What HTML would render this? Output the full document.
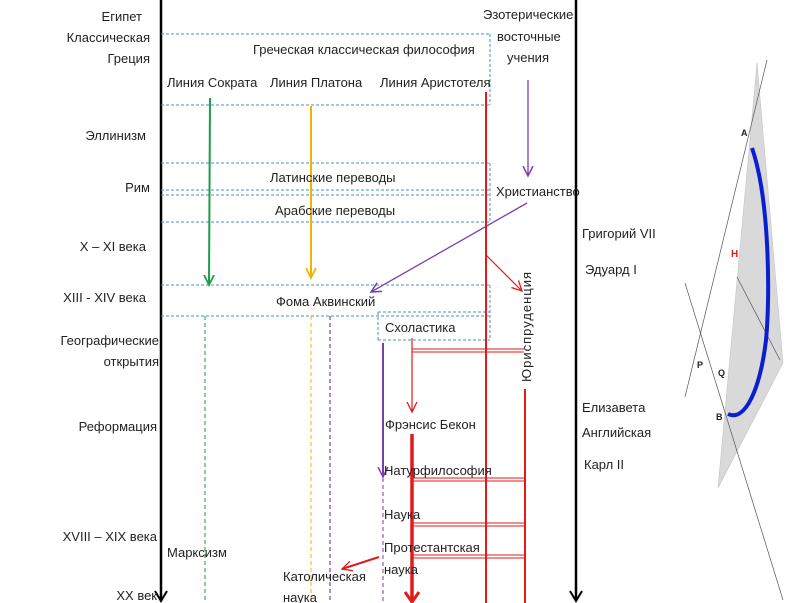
<!DOCTYPE html>
<html><head><meta charset="utf-8"><style>
html,body{margin:0;padding:0;background:#fff;}
svg{display:block;font-family:"Liberation Sans","DejaVu Sans",sans-serif;}
text{font-size:13px;fill:#222;}
</style></head><body>
<svg width="811" height="603" viewBox="0 0 811 603" xmlns="http://www.w3.org/2000/svg">
<defs>
<marker id="ag" markerWidth="12" markerHeight="12" refX="10" refY="6" orient="auto" markerUnits="userSpaceOnUse"><path d="M0,1 L10,6 L0,11" fill="none" stroke="#1a9e4a" stroke-width="1.8"/></marker>
<marker id="ay" markerWidth="12" markerHeight="12" refX="10" refY="6" orient="auto" markerUnits="userSpaceOnUse"><path d="M0,1 L10,6 L0,11" fill="none" stroke="#f0b400" stroke-width="1.8"/></marker>
<marker id="ap" markerWidth="12" markerHeight="12" refX="10" refY="6" orient="auto" markerUnits="userSpaceOnUse"><path d="M0,1 L10,6 L0,11" fill="none" stroke="#7a3fb0" stroke-width="1.5"/></marker>
<marker id="ar" markerWidth="12" markerHeight="12" refX="10" refY="6" orient="auto" markerUnits="userSpaceOnUse"><path d="M0,1 L10,6 L0,11" fill="none" stroke="#e21a1a" stroke-width="1.3"/></marker>
<marker id="ak" markerWidth="14" markerHeight="14" refX="11" refY="7" orient="auto" markerUnits="userSpaceOnUse"><path d="M1,1 L11,7 L1,13" fill="none" stroke="#000" stroke-width="2"/></marker>
</defs>

<line x1="161" y1="0" x2="161" y2="601" stroke="#000" stroke-width="2.5" marker-end="url(#ak)"/>
<line x1="576" y1="0" x2="576" y2="601" stroke="#000" stroke-width="2.5" marker-end="url(#ak)"/>

<g stroke="#4a8fc4" stroke-width="1" stroke-dasharray="3,2" fill="none">
<line x1="161" y1="34" x2="490" y2="34"/>
<line x1="490" y1="34" x2="490" y2="105"/>
<line x1="161" y1="105" x2="490" y2="105"/>
<line x1="161" y1="163" x2="490" y2="163"/>
<line x1="490" y1="163" x2="490" y2="222"/>
<line x1="161" y1="190" x2="490" y2="190"/>
<line x1="161" y1="195" x2="490" y2="195"/>
<line x1="161" y1="222" x2="490" y2="222"/>
<line x1="161" y1="285" x2="490" y2="285"/>
<line x1="490" y1="285" x2="490" y2="340"/>
<line x1="161" y1="316" x2="490" y2="316"/>
<line x1="378" y1="312" x2="490" y2="312"/>
<line x1="378" y1="312" x2="378" y2="340"/>
<line x1="378" y1="340" x2="490" y2="340"/>
</g>

<line x1="210" y1="98" x2="209" y2="285" stroke="#1a9e4a" stroke-width="2" marker-end="url(#ag)"/>
<line x1="311" y1="106" x2="311" y2="278" stroke="#f0b400" stroke-width="2" marker-end="url(#ay)"/>
<line x1="528" y1="80" x2="528" y2="176" stroke="#7a3fb0" stroke-width="1.3" marker-end="url(#ap)"/>
<line x1="527" y1="203" x2="371" y2="292" stroke="#7a3fb0" stroke-width="1.3" marker-end="url(#ap)"/>
<line x1="486" y1="92" x2="486" y2="603" stroke="#e21a1a" stroke-width="2"/>
<line x1="486" y1="255" x2="522" y2="291" stroke="#e21a1a" stroke-width="1.2" marker-end="url(#ar)"/>

<line x1="205" y1="316" x2="205" y2="603" stroke="#1a9e4a" stroke-width="1" stroke-dasharray="4,3"/>
<line x1="311" y1="316" x2="311" y2="603" stroke="#f0b400" stroke-width="1" stroke-dasharray="4,3"/>
<line x1="330" y1="316" x2="330" y2="603" stroke="#7a3fb0" stroke-width="1.2" stroke-dasharray="4,3"/>
<line x1="383" y1="343" x2="383" y2="477" stroke="#7a3fb0" stroke-width="2" marker-end="url(#ap)"/>
<line x1="383" y1="478" x2="383" y2="603" stroke="#7a3fb0" stroke-width="1" stroke-dasharray="4,3"/>

<line x1="412" y1="338" x2="412" y2="412" stroke="#e21a1a" stroke-width="1.2" marker-end="url(#ar)"/>
<line x1="412" y1="434" x2="412" y2="601" stroke="#e21a1a" stroke-width="3.5"/>
<path d="M405,592 L412,602 L419,592" fill="none" stroke="#e21a1a" stroke-width="3"/>
<line x1="525" y1="389" x2="525" y2="603" stroke="#e21a1a" stroke-width="2"/>
<g stroke="#e21a1a" stroke-width="1">
<line x1="412" y1="349" x2="524" y2="349"/><line x1="412" y1="352" x2="524" y2="352"/>
<line x1="412" y1="478" x2="524" y2="478"/><line x1="412" y1="481" x2="524" y2="481"/>
<line x1="412" y1="523" x2="524" y2="523"/><line x1="412" y1="526" x2="524" y2="526"/>
<line x1="412" y1="555" x2="524" y2="555"/><line x1="412" y1="558" x2="524" y2="558"/>
</g>
<line x1="379" y1="557" x2="342" y2="569" stroke="#e21a1a" stroke-width="2" marker-end="url(#ar)"/>

<g text-anchor="end">
<text x="142" y="21" font-size="14">Египет</text>
<text x="150" y="42">Классическая</text>
<text x="150" y="63">Греция</text>
<text x="146" y="140" font-size="14">Эллинизм</text>
<text x="150" y="192" font-size="14">Рим</text>
<text x="146" y="251" font-size="14">X – XI века</text>
<text x="146" y="302" font-size="14">XIII - XIV века</text>
<text x="159" y="345" font-size="12.5">Географические</text>
<text x="159" y="366" font-size="12.5">открытия</text>
<text x="157" y="431" font-size="14">Реформация</text>
<text x="157" y="541" font-size="14">XVIII – XIX века</text>
<text x="157" y="600" font-size="14">XX век</text>
</g>

<text x="253" y="54">Греческая классическая философия</text>
<text x="167" y="87">Линия Сократа</text>
<text x="270" y="87">Линия Платона</text>
<text x="380" y="87">Линия Аристотеля</text>
<text x="483" y="19" font-size="12.5">Эзотерические</text>
<text x="497" y="41" font-size="12.5">восточные</text>
<text x="507" y="62" font-size="12.5">учения</text>
<text x="270" y="182" font-size="11">Латинские переводы</text>
<text x="275" y="215" font-size="11">Арабские переводы</text>
<text x="496" y="196" font-size="13.5">Христианство</text>
<text x="276" y="306">Фома Аквинский</text>
<text x="385" y="332">Схоластика</text>
<text transform="translate(531,382) rotate(-90)" font-size="13.5" letter-spacing="1">Юриспруденция</text>
<text x="385" y="429">Фрэнсис Бекон</text>
<text x="384" y="475">Натурфилософия</text>
<text x="384" y="519">Наука</text>
<text x="384" y="552">Протестантская</text>
<text x="384" y="574">наука</text>
<text x="167" y="557">Марксизм</text>
<text x="283" y="581">Католическая</text>
<text x="283" y="602">наука</text>

<text x="582" y="238" font-size="14">Григорий VII</text>
<text x="585" y="274">Эдуард I</text>
<text x="582" y="412" font-size="14">Елизавета</text>
<text x="582" y="437" font-size="14">Английская</text>
<text x="584" y="469">Карл II</text>

<polygon points="757,63 783,363 718,488" fill="#d9d9d9" stroke="#c4c4c4" stroke-width="0.6"/>
<g stroke="#555" stroke-width="0.7" fill="none">
<line x1="767" y1="60" x2="685" y2="397"/>
<line x1="685" y1="283" x2="783" y2="600"/>
<line x1="737" y1="277" x2="780" y2="360"/>
</g>
<path d="M752,148 C770,200 770,300 766,340 C760,390 745,422 728,414" fill="none" stroke="#0a1fd0" stroke-width="4"/>
<text x="741" y="136" style="font-size:9px;font-weight:bold">A</text>
<text x="731" y="257" style="font-size:10px;fill:#e21a1a;font-weight:bold">H</text>
<text x="697" y="368" style="font-size:9px;font-weight:bold">P</text>
<text x="718" y="376" style="font-size:9px;font-weight:bold">Q</text>
<text x="716" y="420" style="font-size:9px;font-weight:bold">B</text>
</svg>
</body></html>
